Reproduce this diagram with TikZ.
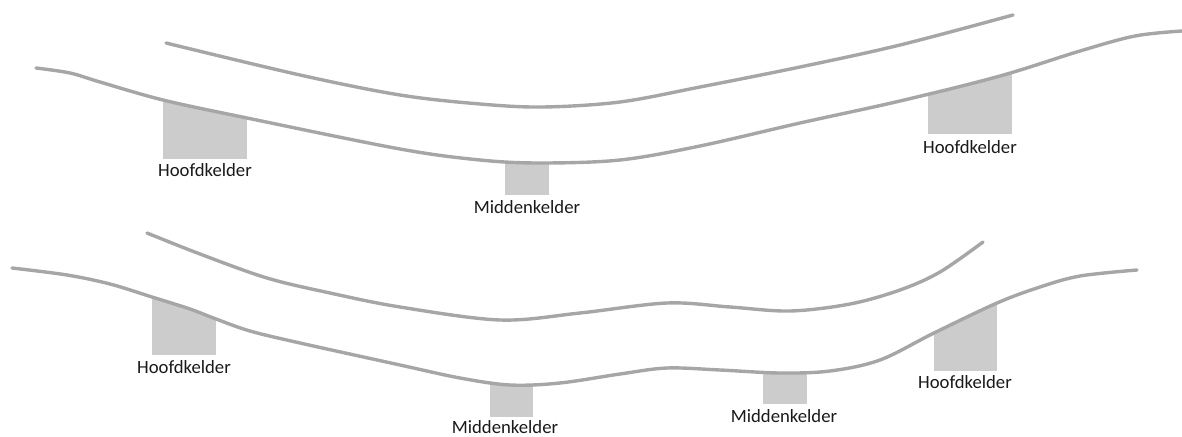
\documentclass[tikz,border=0pt]{standalone}
\usepackage{fontspec}
\setmainfont{Carlito}
\definecolor{roadgray}{HTML}{A6A6A6}
\definecolor{cellargray}{HTML}{CCCCCC}
\begin{document}
\begin{tikzpicture}[x=1pt,y=-1pt,
  road/.style={draw=roadgray,line width=3.4pt,line cap=round},
  cellar/.style={fill=cellargray},
  lbl/.style={anchor=base,inner sep=0pt,font=\fontsize{18.7}{22}\selectfont,text=black!90}]
\useasboundingbox (0,0) rectangle (1182,436);
% ---------- top group ----------
\begin{scope}
\clip plot[smooth,tension=0.55] coordinates {(36,68) (70,73) (100,82) (163,100) (247,118) (400,149) (480,160) (540,163) (620,160) (700,146) (800,123) (900,101) (1000,76) (1080,51) (1135,36) (1182,31)} -- (1182,436) -- (36,436) -- cycle;
\fill[cellar] (163,60) rectangle (247,159);
\fill[cellar] (505,60) rectangle (549,195);
\fill[cellar] (928,30) rectangle (1012,134);
\end{scope}
\draw[road] plot[smooth,tension=0.55] coordinates {(166,43) (300,75) (400,95) (480,104) (543,107) (620,102) (700,87) (800,67) (900,45) (1013,15)};
\draw[road] plot[smooth,tension=0.55] coordinates {(36,68) (70,73) (100,82) (163,100) (247,118) (400,149) (480,160) (540,163) (620,160) (700,146) (800,123) (900,101) (1000,76) (1080,51) (1135,36) (1182,31)};
\node[lbl] (h1) at (205,176) {Hoofdkelder};
\node[lbl] (m1) at (527,213) {Middenkelder};
\node[lbl] (h2) at (970,153) {Hoofdkelder};
% ---------- bottom group ----------
\begin{scope}
\clip plot[smooth,tension=0.55] coordinates {(12,268) (67,275) (110,284) (152,297) (190,309) (216,319) (250,331) (300,343) (400,365) (460,378) (510,385) (560,383) (620,374) (667,368) (720,370) (780,373) (830,371) (880,360) (934,333) (997,303) (1040,287) (1080,276) (1137,270)} -- (1137,436) -- (12,436) -- cycle;
\fill[cellar] (152,260) rectangle (216,355);
\fill[cellar] (490,340) rectangle (533,417);
\fill[cellar] (763,340) rectangle (807,404);
\fill[cellar] (934,270) rectangle (997,371);
\end{scope}
\draw[road] plot[smooth,tension=0.55] coordinates {(147,233) (200,254) (267,278) (330,293) (400,307) (500,320) (580,313) (667,303) (730,307) (790,311) (850,304) (900,290) (940,272) (983,242)};
\draw[road] plot[smooth,tension=0.55] coordinates {(12,268) (67,275) (110,284) (152,297) (190,309) (216,319) (250,331) (300,343) (400,365) (460,378) (510,385) (560,383) (620,374) (667,368) (720,370) (780,373) (830,371) (880,360) (934,333) (997,303) (1040,287) (1080,276) (1137,270)};
\node[lbl] (h3) at (184,373) {Hoofdkelder};
\node[lbl] (m2) at (505,433) {Middenkelder};
\node[lbl] (m3) at (784,422) {Middenkelder};
\node[lbl] (h4) at (965,388) {Hoofdkelder};
\end{tikzpicture}
\end{document}
